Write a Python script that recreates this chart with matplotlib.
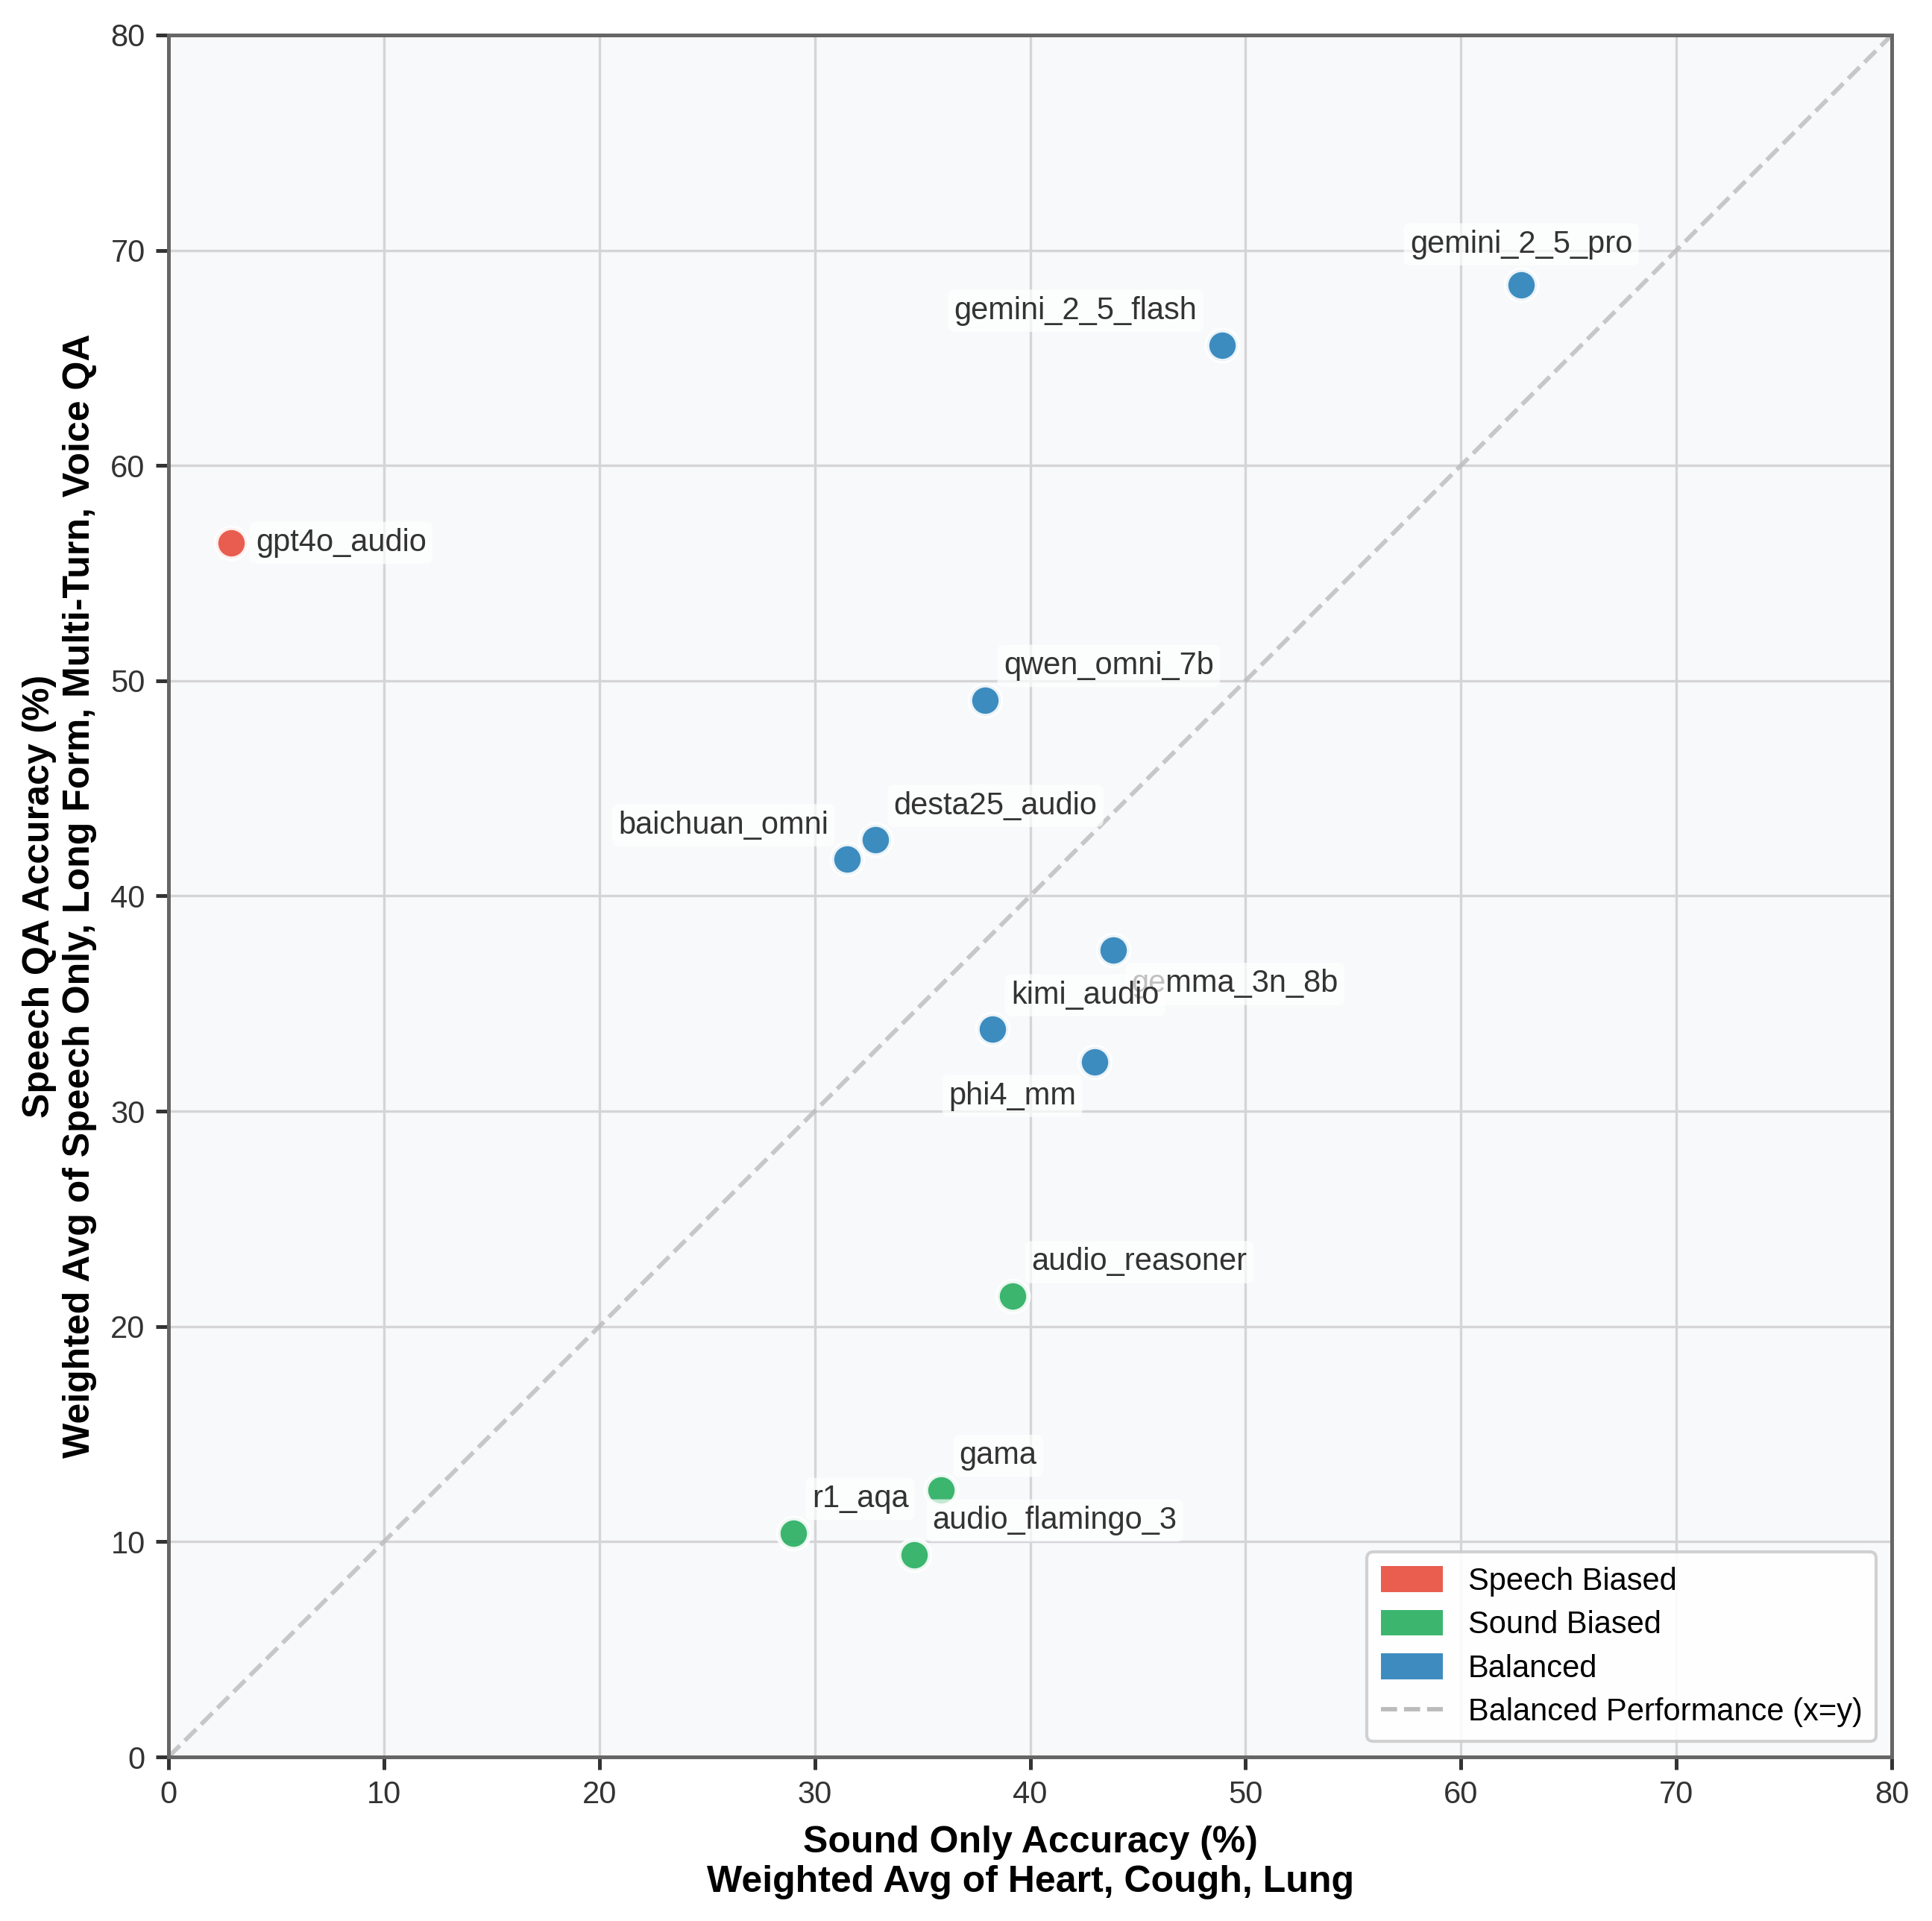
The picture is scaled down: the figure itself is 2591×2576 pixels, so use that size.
import numpy as np
import matplotlib
matplotlib.use("Agg")
from matplotlib import pyplot as plt
from matplotlib.patches import Patch
from matplotlib.lines import Line2D

plt.rcParams['font.family'] = ['Liberation Sans', 'DejaVu Sans']

# model scores
models = ["gpt4o_audio", "gemini_2_5_pro", "gemini_2_5_flash", "qwen_omni_7b",
          "desta25_audio", "baichuan_omni", "gemma_3n_8b", "kimi_audio",
          "phi4_mm", "audio_reasoner", "gama", "r1_aqa", "audio_flamingo_3"]
sound_acc = [2.9, 62.8, 48.9, 37.9, 32.8, 31.5, 43.85, 38.25, 43.0, 39.2, 35.85, 29.0, 34.6]
speech_acc = [56.4, 68.4, 65.6, 49.1, 42.6, 41.7, 37.5, 33.8, 32.3, 21.4, 12.4, 10.4, 9.4]
bias = ["speech", "balanced", "balanced", "balanced", "balanced", "balanced",
        "balanced", "balanced", "balanced", "sound", "sound", "sound", "sound"]

colors = {"speech": "#e74c3c", "sound": "#27ae60", "balanced": "#2980b9"}
names = {"speech": "Speech Biased", "sound": "Sound Biased", "balanced": "Balanced"}

# label placement (offset in points, alignment)
label_pos = {
    "gpt4o_audio": ((8, 0), "left"),
    "gemini_2_5_pro": ((0, 13), "center"),
    "gemini_2_5_flash": ((-8, 11), "right"),
    "qwen_omni_7b": ((6, 11), "left"),
    "desta25_audio": ((6, 11), "left"),
    "baichuan_omni": ((-6, 11), "right"),
    "gemma_3n_8b": ((6, -11), "left"),
    "kimi_audio": ((6, 11), "left"),
    "phi4_mm": ((-6, -11), "right"),
    "audio_reasoner": ((6, 11), "left"),
    "gama": ((6, 11), "left"),
    "r1_aqa": ((6, 11), "left"),
    "audio_flamingo_3": ((6, 11), "left"),
}

fig = plt.figure(figsize=(2591/300, 2576/300), dpi=300)
ax = fig.add_axes([0.0872, 0.0854, 0.892, 0.8964])
ax.set_facecolor("#f8f9fa")

ax.plot([0, 80], [0, 80], linestyle="--", color="#bbbbbb", alpha=0.8, linewidth=1.4, zorder=1)

for m, x, y, b in zip(models, sound_acc, speech_acc, bias):
    ax.scatter(x, y, s=100, color=colors[b], alpha=0.9, edgecolors="white", linewidths=1.5, zorder=3)
    off, ha = label_pos[m]
    ax.annotate(m, (x, y), xytext=off, textcoords="offset points", ha=ha, va="center",
                fontsize=10, color="#333333", zorder=4,
                bbox=dict(boxstyle="round,pad=0.2", facecolor="white", edgecolor="none", alpha=0.7))

ax.set_xlim(0, 80)
ax.set_ylim(0, 80)
ax.set_xticks(np.arange(0, 81, 10))
ax.set_yticks(np.arange(0, 81, 10))
ax.grid(True, color="#d5d5d8", linewidth=0.8, zorder=0)
ax.set_axisbelow(True)
ax.tick_params(labelsize=10, colors="#333333", length=4, width=1.2)
for sp in ax.spines.values():
    sp.set_color("#666666")
    sp.set_linewidth(1.2)

ax.set_xlabel("Sound Only Accuracy (%)\nWeighted Avg of Heart, Cough, Lung",
              fontsize=12, fontweight="bold", labelpad=5)
ax.set_ylabel("Speech QA Accuracy (%)\nWeighted Avg of Speech Only, Long Form, Multi-Turn, Voice QA",
              fontsize=12, fontweight="bold", labelpad=4.5)

handles = [Patch(facecolor=colors[k], alpha=0.9, label=names[k]) for k in ["speech", "sound", "balanced"]]
handles.append(Line2D([0], [0], linestyle="--", color="#bbbbbb", linewidth=1.4, label="Balanced Performance (x=y)"))
ax.legend(handles=handles, loc="lower right", fontsize=10, framealpha=0.9, edgecolor="#cccccc",
          handlelength=2.0, handleheight=0.9, borderpad=0.45, labelspacing=0.43)

fig.savefig("out.png", dpi=300)
